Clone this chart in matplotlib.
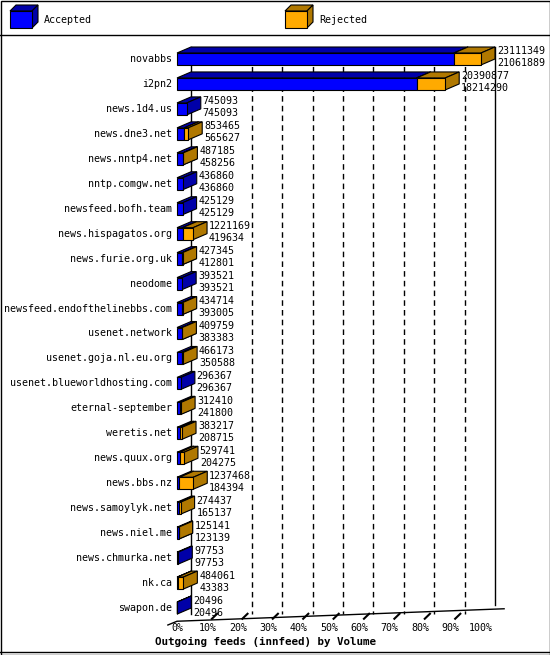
import matplotlib
matplotlib.use("Agg")
import matplotlib.pyplot as plt
from matplotlib.patches import Polygon, Rectangle

names = ["novabbs","i2pn2","news.1d4.us","news.dne3.net","news.nntp4.net","nntp.comgw.net",
         "newsfeed.bofh.team","news.hispagatos.org","news.furie.org.uk","neodome",
         "newsfeed.endofthelinebbs.com","usenet.network","usenet.goja.nl.eu.org",
         "usenet.blueworldhosting.com","eternal-september","weretis.net","news.quux.org",
         "news.bbs.nz","news.samoylyk.net","news.niel.me","news.chmurka.net","nk.ca","swapon.de"]
totals = [23111349,20390877,745093,853465,487185,436860,425129,1221169,427345,393521,434714,
          409759,466173,296367,312410,383217,529741,1237468,274437,125141,97753,484061,20496]
accepted = [21061889,18214290,745093,565627,458256,436860,425129,419634,412801,393521,393005,
            383383,350588,296367,241800,208715,204275,184394,165137,123139,97753,43383,20496]
ticks = [0,10,20,30,40,50,60,70,80,90,100]
title = "Outgoing feeds (innfeed) by Volume"

W, H = 550, 655
fig = plt.figure(figsize=(W/100, H/100), dpi=100)
mono = "DejaVu Sans Mono"
FS = 7.2

bg = fig.add_axes([0, 0, 1, 1], zorder=0)
bg.set_xlim(0, W); bg.set_ylim(H, 0); bg.axis("off")
bg.add_patch(Rectangle((0.5, 0.5), W-1, H-1, fill=False, ec="black", lw=1))
bg.plot([0, W], [35, 35], color="black", lw=1)
bg.plot([0, W], [652, 652], color="black", lw=1)

def box3d(ax, x0, x1, y0, h, dx, dy, front, dark):
    ax.add_patch(Polygon([(x0, y0), (x1, y0), (x1+dx, y0-dy), (x0+dx, y0-dy)], closed=True,
                         fc=dark, ec="black", lw=0.8, clip_on=False, zorder=3))
    ax.add_patch(Polygon([(x1, y0), (x1+dx, y0-dy), (x1+dx, y0+h-dy), (x1, y0+h)], closed=True,
                         fc=dark, ec="black", lw=0.8, clip_on=False, zorder=3))
    ax.add_patch(Rectangle((x0, y0), x1-x0, h, fc=front, ec="black", lw=0.8, clip_on=False, zorder=4))

box3d(bg, 10, 32, 11, 17, 6, 6, "#0000ff", "#0000a8")
bg.text(44, 20, "Accepted", family=mono, fontsize=FS, va="center")
box3d(bg, 285, 307, 11, 17, 6, 6, "#ffaa00", "#b07800")
bg.text(319, 20, "Rejected", family=mono, fontsize=FS, va="center")

ax = fig.add_axes([177/W, 1-620/H, 304/W, (620-47)/H], zorder=1)
ax.set_xlim(0, 100); ax.set_ylim(22.48, -0.48); ax.axis("off")
dx, dy, h = 4.6, 0.24, 0.48
mx = max(totals)
base = 22.48

ax.plot([dx, dx], [-0.48, base-dy], color="black", lw=1, clip_on=False, zorder=1)
ax.plot([100+dx, 100+dx], [-0.48, base-0.6], color="black", lw=1, clip_on=False, zorder=1)
for t in ticks[2:-1]:
    ax.plot([t+dx, t+dx], [-0.48, base-dy], color="black", lw=1, ls=(0, (4, 3)), zorder=1, clip_on=False)
ax.plot([-3, 0, 100+dx+3], [base+0.2, base+0.05, base-0.45], color="black", lw=1, clip_on=False)
for t in ticks[1:-1]:
    ax.plot([t+1.5, t+3.2], [base-0.05, base-0.25], color="black", lw=1.5, clip_on=False)
for t in ticks:
    ax.text(t, 22.82, f"{t}%", family=mono, fontsize=FS, ha="center", va="center", clip_on=False)
ax.text(-7.2, 23.35, title, family=mono, fontsize=FS+0.6, weight="bold", ha="left", va="center", clip_on=False)

for i, (n, tot, acc) in enumerate(zip(names, totals, accepted)):
    xa = acc / mx * 100
    xt = tot / mx * 100
    y0 = i - h/2
    box3d(ax, 0, xa, y0, h, dx, dy, "#0000ff", "#0000a8")
    if xt > xa:
        box3d(ax, xa, xt, y0, h, dx, dy, "#ffaa00", "#b07800")
    ax.text(-1.6, i, n, family=mono, fontsize=FS, ha="right", va="center", clip_on=False)
    ax.text(xt+dx+0.6, i-0.3, str(tot), family=mono, fontsize=FS, ha="left", va="center", clip_on=False, zorder=5)
    ax.text(xt+dx+0.6, i+0.18, str(acc), family=mono, fontsize=FS, ha="left", va="center", clip_on=False, zorder=5)

fig.savefig("out.png", dpi=100)
